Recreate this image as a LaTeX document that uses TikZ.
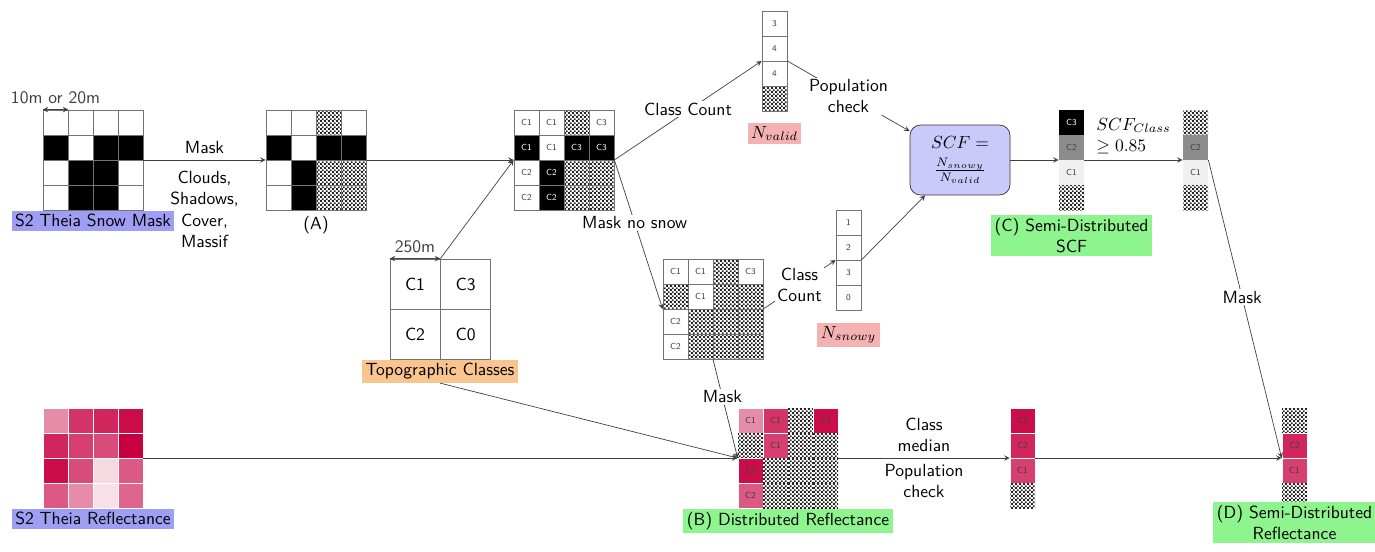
\documentclass[tikz,border=0pt]{standalone}
\usetikzlibrary{positioning,patterns}
\definecolor{labblue}{RGB}{158,158,245}
\definecolor{boxblue}{RGB}{202,202,250}
\definecolor{laborange}{RGB}{250,196,142}
\definecolor{labpink}{RGB}{245,178,178}
\definecolor{labgreen}{RGB}{142,245,142}
\definecolor{refl}{RGB}{200,0,64}

\pgfdeclarepatternformonly{finecheck}{\pgfpointorigin}{\pgfqpoint{2.4pt}{2.4pt}}{\pgfqpoint{2.4pt}{2.4pt}}{
  \pgfpathrectangle{\pgfpointorigin}{\pgfqpoint{1.2pt}{1.2pt}}
  \pgfpathrectangle{\pgfqpoint{1.2pt}{1.2pt}}{\pgfqpoint{1.2pt}{1.2pt}}
  \pgfusepath{fill}
}

% 4x4 grid: #1,#2 top left corner, #3 name, #4 cells (style/label)
\newcommand{\cellgrid}[4]{%
  \foreach \st/\lb [count=\i from 0] in {#4} {
    \pgfmathtruncatemacro{\gcol}{mod(\i,4)}
    \pgfmathtruncatemacro{\grow}{div(\i,4)}
    \node[\st] (#3-\i) at ({#1+25*\gcol+12.5},{#2+25*\grow+12.5}) {\lb};
  }%
}
% column of 4 cells
\newcommand{\cellcol}[4]{%
  \foreach \st/\lb [count=\i from 0] in {#4} {
    \node[\st] (#3-\i) at ({#1+12.5},{#2+25*\i+12.5}) {\lb};
  }%
}

\begin{document}
\begin{tikzpicture}[x=0.02cm, y=-0.02cm, >=stealth,
    cell/.style={draw=black!55, minimum size=0.5cm, inner sep=0pt, font=\sffamily\tiny, text=black!75},
    wc/.style={cell, fill=white},
    bc/.style={cell, fill=black, text=white},
    xc/.style={cell, pattern=finecheck, pattern color=black!85},
    xn/.style={cell, draw=none, pattern=finecheck, pattern color=black!85},
    kc/.style={cell, draw=none, fill=black, text=white},
    gc/.style={cell, draw=none, fill=black!45},
    lc/.style={cell, draw=none, fill=black!6},
    pcell/.style={cell, draw=white, fill=refl!#1},
    p12/.style={pcell=12}, p15/.style={pcell=15}, p45/.style={pcell=45},
    p60/.style={pcell=60}, p65/.style={pcell=65}, p70/.style={pcell=70},
    p75/.style={pcell=75}, p80/.style={pcell=80}, p85/.style={pcell=85},
    p95/.style={pcell=95}, p100/.style={pcell=100},
    tcell/.style={draw=black!55, minimum size=1cm, inner sep=0pt, font=\sffamily},
    frame/.style={minimum size=2cm, inner sep=0pt},
    colframe/.style={minimum width=0.5cm, minimum height=2cm, inner sep=0pt},
    tag/.style={font=\sffamily, inner sep=2pt, align=center},
    conn/.style={->, draw=black!75},
    lab/.style={fill=white, font=\sffamily, align=center, inner sep=1pt}]
    \useasboundingbox (0,0) rectangle (1375,551);

    % grids
    \node[frame] (snow) at (93,160) {};
    \cellgrid{43}{110}{snow}{wc/,wc/,wc/,wc/, bc/,wc/,bc/,bc/, wc/,bc/,bc/,wc/, wc/,bc/,bc/,wc/}
    \node[frame] (gA) at (316,160) {};
    \cellgrid{266}{110}{gA}{wc/,wc/,xc/,wc/, bc/,wc/,bc/,bc/, wc/,bc/,xc/,xc/, wc/,bc/,xc/,xc/}
    \node[frame] (g3) at (564,160) {};
    \cellgrid{514}{110}{g3}{wc/C1,wc/C1,xc/,wc/C3, bc/C1,wc/C1,bc/C3,bc/C3, wc/C2,bc/C2,xc/,xc/, wc/C2,bc/C2,xc/,xc/}
    \node[frame] (g4) at (713,309) {};
    \cellgrid{663}{259}{g4}{wc/C1,wc/C1,xc/,wc/C3, xc/,wc/C1,xc/,xc/, wc/C2,xc/,xc/,xc/, wc/C2,xc/,xc/,xc/}
    \node[frame] (refl) at (93,458) {};
    \cellgrid{43}{408}{refl}{p45/,p80/,p85/,p95/, p85/,p75/,p70/,p100/, p95/,p70/,p15/,p65/, p65/,p45/,p12/,p60/}
    \node[frame] (gB) at (788,458) {};
    \cellgrid{738}{408}{gB}{p45/C1,p80/C1,xn/,p95/C3, xn/,p75/C1,xn/,xn/, p95/C2,xn/,xn/,xn/, p65/C2,xn/,xn/,xn/}

    % columns
    \node[colframe] (nvalid) at (774.5,61) {};
    \cellcol{762}{11}{nvalid}{wc/3,wc/4,wc/4,xc/}
    \node[colframe] (nsnowy) at (848.5,260) {};
    \cellcol{836}{210}{nsnowy}{wc/1,wc/2,wc/3,wc/0}
    \node[colframe] (colC) at (1071.5,160) {};
    \cellcol{1059}{110}{colC}{kc/C3,gc/C2,lc/C1,xn/}
    \node[colframe] (colD) at (1195.5,160) {};
    \cellcol{1183}{110}{colD}{xn/,gc/C2,lc/C1,xn/}
    \node[colframe] (colE) at (1022.5,458) {};
    \cellcol{1010}{408}{colE}{p95/C3,p85/C2,p75/C1,xn/}
    \node[colframe] (colF) at (1294.5,458) {};
    \cellcol{1282}{408}{colF}{xn/,p85/C2,p75/C1,xn/}

    % topographic classes
    \node[frame] (topo) at (440,309) {};
    \node[tcell] (t1) at (415,284) {C1};
    \node[tcell, right=0pt of t1] (t3) {C3};
    \node[tcell, below=0pt of t1] (t2) {C2};
    \node[tcell, right=0pt of t2] (t0) {C0};

    \node[draw=black!80, fill=boxblue, rounded corners=6pt, minimum width=2cm,
        minimum height=1.4cm, align=center] (scf) at (960,160)
        {$SCF=$\\[3pt]$\frac{N_{snowy}}{N_{valid}}$};

    % tags
    \node[tag, fill=labblue, below=0pt of snow] (snowtag) {S2 Theia Snow Mask};
    \node[tag, below=1pt of gA] (atag) {(A)};
    \node[tag, fill=laborange, below=0pt of topo] (topotag) {Topographic Classes};
    \node[tag, fill=labpink, below=0.22cm of nvalid] (nvtag) {$N_{valid}$};
    \node[tag, fill=labpink, below=0.24cm of nsnowy] (nstag) {$N_{snowy}$};
    \node[tag, fill=labblue, below=0pt of refl] (refltag) {S2 Theia Reflectance};
    \node[tag, fill=labgreen, below=0pt of gB] (btag) {(B) Distributed Reflectance};
    \node[tag, fill=labgreen, below=0.08cm of colC] (ctag) {(C) Semi-Distributed\\SCF};
    \node[tag, fill=labgreen, below=-0.14cm of colF] (dtag) {(D) Semi-Distributed\\Reflectance};

    % sizes
    \draw[<->, black!75] (snow-0.north west) -- (snow-0.north east)
        node[midway, above, font=\sffamily] {10m or 20m};
    \draw[<->, black!75] (t1.north west) -- (t1.north east)
        node[midway, above, font=\sffamily] {250m};

    % connectors
    \draw[conn] (snow) -- (gA)
        node[midway, above, font=\sffamily] {Mask}
        node[midway, below=3pt, font=\sffamily, align=center] {Clouds,\\Shadows,\\Cover,\\Massif};
    \draw[conn] (gA) -- (g3);
    \draw[conn] (t1.north east) -- (g3.west);
    \draw[conn] (g3.east) -- (nvalid.west) node[lab, midway, above=-4pt] {Class Count};
    \draw[conn] (nvalid.east) -- (scf) node[lab, midway] {Population\\check};
    \draw[conn] (g3.east) -- (g4.west) node[lab, pos=0.42] {Mask no snow};
    \draw[conn] (g4.east) -- (nsnowy.west) node[lab, midway] {Class\\Count};
    \draw[conn] (nsnowy.east) -- (scf);
    \draw[conn] (g4.south) -- (gB.west) node[lab, pos=0.38] {Mask};
    \draw[conn] (refl.east) -- (gB.west);
    \draw[conn] (topotag.south) -- (gB.west);
    \draw[conn] (gB.east) -- (colE.west)
        node[midway, above, font=\sffamily, align=center] {Class\\median}
        node[midway, below, font=\sffamily, align=center] {Population\\check};
    \draw[conn] (colE.east) -- (colF.west);
    \draw[conn] (scf.east) -- (colC.west);
    \draw[conn] (colC.east) -- (colD.west)
        node[midway, above, align=left] {$SCF_{Class}$\\$\geq 0.85$};
    \draw[conn] (colD.east) -- (colF.west) node[lab, pos=0.46] {Mask};
\end{tikzpicture}
\end{document}
